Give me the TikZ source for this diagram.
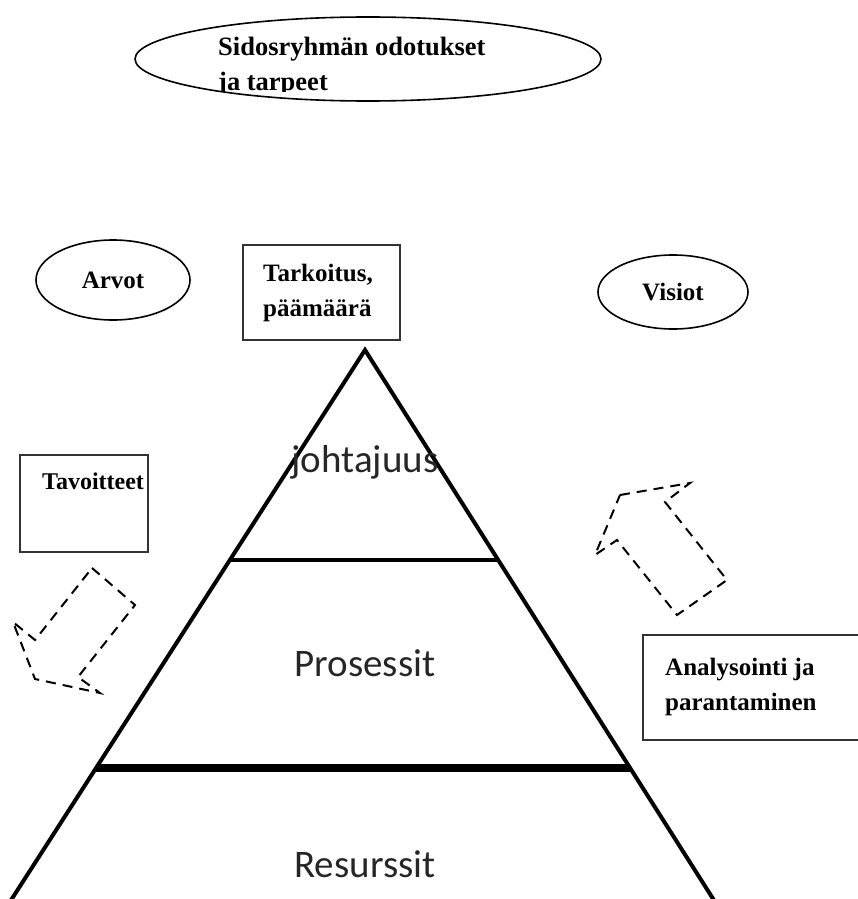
\documentclass[tikz,border=0pt]{standalone}
\usepackage{fontspec}
\setmainfont{Liberation Serif}
\newfontfamily\calib{Carlito}
\usetikzlibrary{shapes.geometric,calc}
\begin{document}
\begin{tikzpicture}[x=1pt,y=-1pt,
  oval/.style={draw, line width=1.6pt, ellipse, inner sep=0pt},
  boxnode/.style={draw=black!80, line width=1.3pt, rectangle, inner sep=0pt},
  lbl/.style={font=\fontsize{25}{35}\selectfont\bfseries, align=left, anchor=base west, inner sep=0pt},
  ovaltext/.style={font=\fontsize{25}{30}\selectfont\bfseries},
  pyr/.style={line width=4pt},
  layer/.style={font=\calib\fontsize{39}{39}\selectfont, text=black!85, anchor=base, inner sep=0pt},
  dasharrow/.style={draw, line width=2pt, dash pattern=on 10pt off 7pt}
]
\useasboundingbox (0,0) rectangle (858,899);

% top ellipse
\node[oval, minimum width=466pt, minimum height=84pt] (sidos) at (368,59) {};
\begin{scope}
  \clip (200,20) rectangle (540,91);
  \node[lbl, font=\fontsize{26.5}{35}\selectfont\bfseries] (sidostxt) at (218,90)
    {Sidosryhmän odotukset\\ja tarpeet};
\end{scope}

% second row
\node[oval, minimum width=154pt, minimum height=80pt, ovaltext] (arvot) at (113,280) {Arvot};
\node[boxnode, minimum width=157pt, minimum height=95pt] (tark) at (321.5,292.5) {};
\node[lbl] (tarktxt) at (263,316) {Tarkoitus,\\päämäärä};
\node[oval, minimum width=150pt, minimum height=74pt, ovaltext] (visiot) at (673,292) {Visiot};

% pyramid
\coordinate (apex) at (365,350);
\coordinate (bl) at (7.9,905);
\coordinate (br) at (717,905);
\draw[pyr] (bl) -- (apex) -- (br);
\coordinate (l1) at ($(apex)!0.3784!(bl)$);
\coordinate (r1) at ($(apex)!0.3784!(br)$);
\coordinate (l2) at ($(apex)!0.7532!(bl)$);
\coordinate (r2) at ($(apex)!0.7532!(br)$);
\draw[line width=4pt] (l1) -- (r1);
\draw[line width=8pt] (l2) -- (r2);

\node[layer] (johto) at (365,472) {johtajuus};
\node[layer] (pros) at (365,676) {Prosessit};
\node[layer] (res) at (365,877) {Resurssit};

% side boxes
\node[boxnode, minimum width=128pt, minimum height=97pt] (tavo) at (84,503.5) {};
\node[lbl, font=\fontsize{24}{35}\selectfont\bfseries] (tavotxt) at (42,489) {Tavoitteet};
\node[boxnode, minimum width=227pt, minimum height=105pt] (anal) at (756.5,687.5) {};
\node[lbl] (analtxt) at (665,710) {Analysointi ja\\parantaminen};

% dashed block arrows
\draw[dasharrow] (620,495) -- (690,483) -- (665,502) -- (727,580) -- (677,615) -- (617,540) -- (595,555) -- cycle;
\draw[dasharrow] (92,568) -- (135,605) -- (78,677) -- (100,693) -- (35,679) -- (13,622) -- (35,640) -- cycle;
\end{tikzpicture}
\end{document}
